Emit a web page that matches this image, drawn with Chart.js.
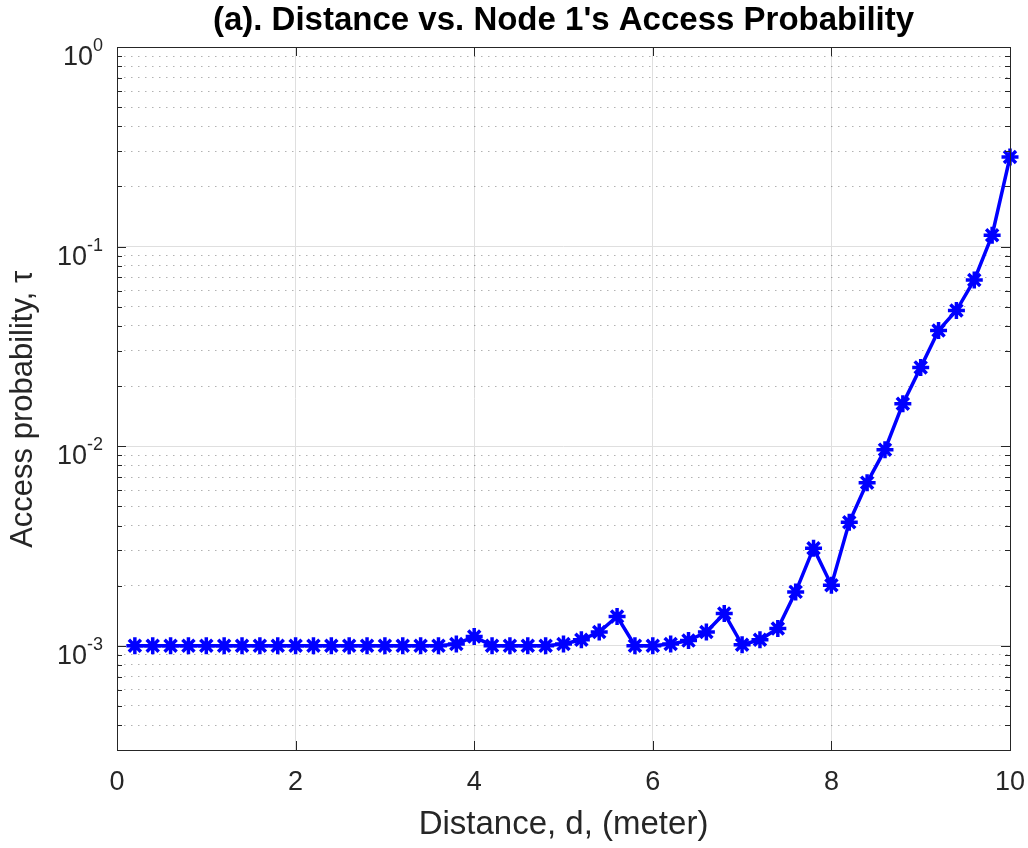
<!DOCTYPE html>
<html>
<head>
<meta charset="UTF-8">
<script src="https://cdn.jsdelivr.net/npm/chart.js@4.4.1/dist/chart.umd.min.js"></script>
<style>
    html, body { margin: 0; padding: 0; background: #fff; }
    canvas { display: block; }
</style>
</head>
<body>
<canvas id="tau-graph" width="1028" height="848"></canvas>
<script>

    // distance d (meter)
    var distances = [0.2, 0.4, 0.6, 0.8, 1.0, 1.2, 1.4, 1.6, 1.8, 2.0,
                     2.2, 2.4, 2.6, 2.8, 3.0, 3.2, 3.4, 3.6, 3.8, 4.0,
                     4.2, 4.4, 4.6, 4.8, 5.0, 5.2, 5.4, 5.6, 5.8, 6.0,
                     6.2, 6.4, 6.6, 6.8, 7.0, 7.2, 7.4, 7.6, 7.8, 8.0,
                     8.2, 8.4, 8.6, 8.8, 9.0, 9.2, 9.4, 9.6, 9.8, 10.0];

    // node 1 access probability tau
    var accessProb = [1.0e-3, 1.0e-3, 1.0e-3, 1.0e-3, 1.0e-3, 1.0e-3, 1.0e-3, 1.0e-3, 1.0e-3, 1.0e-3,
                      1.0e-3, 1.0e-3, 1.0e-3, 1.0e-3, 1.0e-3, 1.0e-3, 1.0e-3, 1.0e-3, 1.02e-3, 1.11e-3,
                      1.0e-3, 1.0e-3, 1.0e-3, 1.0e-3, 1.02e-3, 1.07e-3, 1.17e-3, 1.40e-3, 1.0e-3, 1.0e-3,
                      1.02e-3, 1.06e-3, 1.17e-3, 1.45e-3, 1.01e-3, 1.07e-3, 1.22e-3, 1.86e-3, 3.08e-3, 2.01e-3,
                      4.15e-3, 6.56e-3, 9.6e-3, 1.63e-2, 2.48e-2, 3.8e-2, 4.78e-2, 6.8e-2, 1.14e-1, 2.81e-1];

    var xTicks = [0, 2, 4, 6, 8, 10];
    var yDecades = [-3, -2, -1, 0];
    var yMinorSteps = [1, 2, 3, 4, 5, 6, 7, 8, 9];
    var yMin = Math.pow(10, -3.5);
    var yMax = 1;

    var fontFamily = '"Liberation Sans", Arial, Helvetica, sans-serif';
    var axisColor = '#262626';

    function isDecade(v) {
        var l = Math.log10(v);
        return Math.abs(l - Math.round(l)) < 1e-6;
    }

    // box, inward ticks and 10^n labels, MATLAB style
    var matlabAxes = {
        id: 'matlabAxes',
        afterDraw: function (chart) {
            var ctx = chart.ctx, a = chart.chartArea;
            var xs = chart.scales.x, ys = chart.scales.y;
            ctx.save();
            ctx.strokeStyle = axisColor;
            ctx.lineWidth = 1;
            ctx.beginPath();
            xTicks.forEach(function (t) {
                var px = Math.round(xs.getPixelForValue(t)) + 0.5;
                ctx.moveTo(px, a.bottom); ctx.lineTo(px, a.bottom - 9);
                ctx.moveTo(px, a.top); ctx.lineTo(px, a.top + 9);
            });
            ys.ticks.forEach(function (t) {
                var py = Math.round(ys.getPixelForValue(t.value)) + 0.5;
                var len = isDecade(t.value) ? 9 : 5;
                ctx.moveTo(a.left, py); ctx.lineTo(a.left + len, py);
                ctx.moveTo(a.right, py); ctx.lineTo(a.right - len, py);
            });
            ctx.stroke();
            ctx.strokeRect(Math.round(a.left) + 0.5, Math.round(a.top) + 0.5,
                           Math.round(a.right - a.left), Math.round(a.bottom - a.top));

            ctx.fillStyle = axisColor;
            ctx.textBaseline = 'alphabetic';
            ctx.textAlign = 'right';
            yDecades.forEach(function (e) {
                var py = ys.getPixelForValue(Math.pow(10, e));
                var xr = a.left - 14;
                ctx.font = '18px ' + fontFamily;
                var ex = String(e);
                ctx.fillText(ex, xr, py + 4);
                var w = ctx.measureText(ex).width;
                ctx.font = '27px ' + fontFamily;
                ctx.fillText('10', xr - w, py + 18);
            });
            ctx.restore();
        }
    };

    var ctx = document.getElementById('tau-graph').getContext('2d');
    var TauChart = new Chart(ctx, {
        type: 'line',
        data: {
            labels: distances,
            datasets: [{
                data: distances.map(function (d, i) { return { x: d, y: accessProb[i] }; }),
                borderColor: '#0000ff',
                backgroundColor: '#0000ff',
                borderWidth: 3.5,
                pointStyle: 'star',
                pointRadius: 8.5,
                pointBorderWidth: 3.5,
                pointBorderColor: '#0000ff',
                tension: 0,
                fill: false,
                clip: false
            }]
        },
        options: {
            responsive: false,
            animation: false,
            devicePixelRatio: 1,
            layout: { padding: { left: 0, right: 18, top: 0, bottom: 0 } },
            plugins: {
                legend: { display: false },
                tooltip: { enabled: false },
                title: {
                    display: true,
                    fullSize: false,
                    text: "(a). Distance vs. Node 1's Access Probability",
                    color: '#000',
                    font: { family: fontFamily, size: 33, weight: 'bold', lineHeight: 1.2 },
                    padding: { top: 1.5, bottom: 5.9 }
                }
            },
            scales: {
                x: {
                    type: 'linear',
                    min: 0,
                    max: 10,
                    afterFit: function (scale) {
                        scale.height = 98;
                        scale.paddingLeft = 0;
                        scale.paddingRight = 0;
                    },
                    afterBuildTicks: function (scale) {
                        scale.ticks = xTicks.map(function (v) { return { value: v }; });
                    },
                    ticks: {
                        color: axisColor,
                        padding: 16,
                        autoSkip: false,
                        maxRotation: 0,
                        font: { family: fontFamily, size: 27 }
                    },
                    grid: { color: '#dfdfdf', lineWidth: 1, drawTicks: false },
                    border: { display: false },
                    title: {
                        display: true,
                        text: 'Distance, d, (meter)',
                        color: axisColor,
                        font: { family: fontFamily, size: 33 },
                        padding: { top: 0, bottom: 3 }
                    }
                },
                y: {
                    type: 'logarithmic',
                    min: yMin,
                    max: yMax,
                    afterFit: function (scale) {
                        scale.width = 117;
                        scale.paddingTop = 0;
                        scale.paddingBottom = 0;
                    },
                    afterBuildTicks: function (scale) {
                        var ticks = [];
                        for (var e = -4; e <= 0; e++) {
                            yMinorSteps.forEach(function (m) {
                                var v = m * Math.pow(10, e);
                                if (v >= yMin * 0.999 && v <= yMax * 1.0001) ticks.push({ value: v });
                            });
                        }
                        scale.ticks = ticks;
                    },
                    ticks: {
                        autoSkip: false,
                        callback: function () { return ''; }
                    },
                    grid: {
                        drawTicks: false,
                        lineWidth: 1,
                        color: function (c) {
                            return c.tick && isDecade(c.tick.value) ? '#dfdfdf' : 'rgba(0,0,0,0.3)';
                        }
                    },
                    border: {
                        display: false,
                        dash: function (c) {
                            return c.tick && !isDecade(c.tick.value) ? [1.5, 5.5] : [];
                        }
                    },
                    title: {
                        display: true,
                        text: 'Access probability, \u03c4\u2002\u2009',
                        color: axisColor,
                        font: { family: fontFamily, size: 31 },
                        padding: { top: 5, bottom: 0 }
                    }
                }
            }
        },
        plugins: [matlabAxes]
    });

</script>
</body>
</html>
